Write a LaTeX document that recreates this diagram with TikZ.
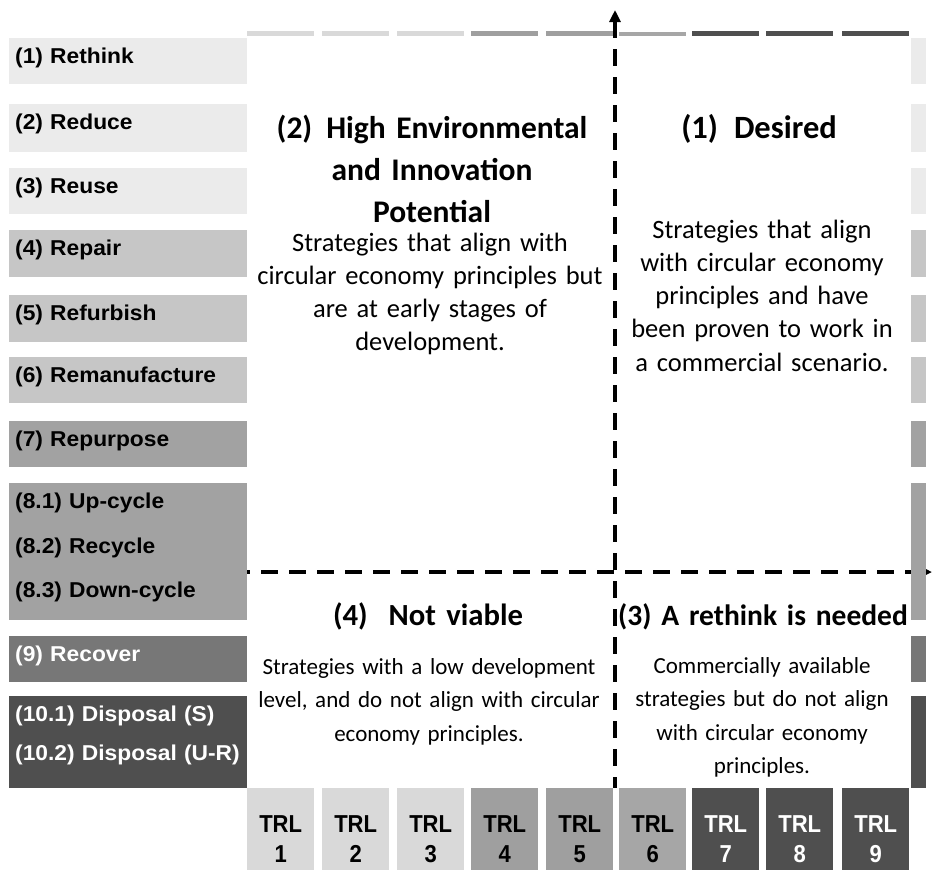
\documentclass[tikz,border=0pt]{standalone}
\usepackage{fontspec}
\usetikzlibrary{arrows.meta}
\newfontfamily\labfont[FakeStretch=1.06]{Liberation Sans}
\newfontfamily\trlfont[FakeStretch=0.9]{Liberation Sans}
\newfontfamily\calfont{Carlito}
\definecolor{g1}{HTML}{EBEBEB}
\definecolor{g2}{HTML}{C6C6C6}
\definecolor{g3}{HTML}{A2A2A2}
\definecolor{g4}{HTML}{777777}
\definecolor{g5}{HTML}{4F4F4F}
\definecolor{t1}{HTML}{D9D9D9}
\definecolor{t2}{HTML}{9F9F9F}
\definecolor{t3}{HTML}{A6A6A6}
\begin{document}
\begin{tikzpicture}[x=1pt,y=-1pt,
  lbl/.style={anchor=north west, inner xsep=6pt, inner ysep=0pt, text width=226pt,
    align=left, font=\labfont\bfseries\fontsize{21.5}{44.5}\selectfont, text height=25.5pt},
  rbar/.style={anchor=north west, inner sep=0pt, minimum width=15pt},
  tbar/.style={anchor=north west, inner sep=0pt, minimum width=67pt, minimum height=5pt},
  trl/.style={anchor=north west, inner sep=0pt, text width=67pt, align=center,
    text height=44pt, text depth=38pt, font=\trlfont\bfseries\fontsize{24.5}{30}\selectfont},
  qtitle/.style={anchor=base, text width=380pt, align=center, inner sep=0pt,
    font=\calfont\bfseries\fontsize{31.5}{42}\selectfont},
  qbody/.style={anchor=base, text width=380pt, align=center, inner sep=0pt,
    font=\calfont\fontsize{26.5}{33.3}\selectfont},
  qsmall/.style={anchor=base, text width=380pt, align=center, inner sep=0pt,
    font=\calfont\fontsize{23}{33.5}\selectfont},
  axis/.style={line width=4pt, dash pattern=on 17pt off 11pt}
]
\useasboundingbox (0,0) rectangle (933,870);
\fill[white] (0,0) rectangle (933,870);

% axes
\coordinate (vtop) at (615,10);
\coordinate (vbot) at (615,788);
\coordinate (hleft) at (247,572);
\coordinate (hright) at (932,572);
\draw[axis, {Triangle[length=12pt,width=11pt]}-] (vtop) -- (vbot);
\draw[axis, {Triangle[length=11pt,width=10pt]}-] (hright) -- (hleft);

% left labels
\node[lbl, fill=g1, text depth=20.5pt] (r1) at (9,38) {(1) Rethink};
\node[lbl, fill=g1, text depth=22.5pt] (r2) at (9,104) {(2) Reduce};
\node[lbl, fill=g1, text depth=20.5pt] (r3) at (9,168) {(3) Reuse};
\node[lbl, fill=g2, text depth=21.5pt] (r4) at (9,230) {(4) Repair};
\node[lbl, fill=g2, text depth=21.5pt] (r5) at (9,295) {(5) Refurbish};
\node[lbl, fill=g2, text depth=20.5pt] (r6) at (9,357) {(6) Remanufacture};
\node[lbl, fill=g3, text depth=20.5pt] (r7) at (9,421) {(7) Repurpose};
\node[lbl, fill=g3, text depth=111.5pt] (r8) at (9,483) {(8.1) Up-cycle\\(8.2) Recycle\\(8.3) Down-cycle};
\node[lbl, fill=g4, text depth=20.5pt, text=white] (r9) at (9,636) {(9) Recover};
\node[lbl, fill=g5, text depth=66.5pt, text=white, font=\labfont\bfseries\fontsize{21.5}{39}\selectfont] (r10) at (9,696) {(10.1) Disposal (S)\\(10.2) Disposal (U-R)};

% right bars
\node[rbar, fill=g1, minimum height=46pt] (b1) at (911,38) {};
\node[rbar, fill=g1, minimum height=48pt] (b2) at (911,104) {};
\node[rbar, fill=g1, minimum height=46pt] (b3) at (911,168) {};
\node[rbar, fill=g2, minimum height=47pt] (b4) at (911,230) {};
\node[rbar, fill=g2, minimum height=47pt] (b5) at (911,295) {};
\node[rbar, fill=g2, minimum height=46pt] (b6) at (911,357) {};
\node[rbar, fill=g3, minimum height=46pt] (b7) at (911,421) {};
\node[rbar, fill=g3, minimum height=137pt] (b8) at (911,483) {};
\node[rbar, fill=g4, minimum height=46pt] (b9) at (911,636) {};
\node[rbar, fill=g5, minimum height=92pt] (b10) at (911,696) {};

% top bars
\node[tbar, fill=t1] (c1) at (247,31) {};
\node[tbar, fill=t1] (c2) at (322,31) {};
\node[tbar, fill=t1] (c3) at (397,31) {};
\node[tbar, fill=t2] (c4) at (471,31) {};
\node[tbar, fill=t2] (c5) at (546,31) {};
\node[tbar, fill=t3, minimum height=4pt] (c6) at (619,32) {};
\node[tbar, fill=g5] (c7) at (692,31) {};
\node[tbar, fill=g5] (c8) at (766,31) {};
\node[tbar, fill=g5] (c9) at (842,31) {};

% TRL boxes
\node[trl, fill=t1] (trl1) at (247,788) {TRL\\1};
\node[trl, fill=t1] (trl2) at (322,788) {TRL\\2};
\node[trl, fill=t1] (trl3) at (397,788) {TRL\\3};
\node[trl, fill=t2] (trl4) at (471,788) {TRL\\4};
\node[trl, fill=t2] (trl5) at (546,788) {TRL\\5};
\node[trl, fill=t3] (trl6) at (619,788) {TRL\\6};
\node[trl, fill=g5, text=white] (trl7) at (692,788) {TRL\\7};
\node[trl, fill=g5, text=white] (trl8) at (766,788) {TRL\\8};
\node[trl, fill=g5, text=white] (trl9) at (842,788) {TRL\\9};

% quadrant texts
\node[qtitle] (q2t) at (432,138) {(2)\hspace{14pt}High Environmental\\and Innovation\\Potential};
\node[qbody] (q2b) at (430,251) {Strategies that align with\\circular economy principles but\\are at early stages of\\development.};
\node[qtitle, font=\calfont\bfseries\fontsize{32.5}{42}\selectfont] (q1t) at (759,138) {(1)\hspace{16pt}Desired};
\node[qbody] (q1b) at (762,238) {Strategies that align\\with circular economy\\principles and have\\been proven to work in\\a commercial scenario.};
\node[qtitle, font=\calfont\bfseries\fontsize{30.7}{42}\selectfont] (q4t) at (428,625) {(4)\hspace{21pt}Not viable};
\node[qsmall] (q4b) at (429,674) {Strategies with a low development\\level, and do not align with circular\\economy principles.};
\node[qtitle, font=\calfont\bfseries\fontsize{29.5}{42}\selectfont] (q3t) at (763,625) {(3) A rethink is needed};
\node[qsmall] (q3b) at (762,673) {Commercially available\\strategies but do not align\\with circular economy\\principles.};
\end{tikzpicture}
\end{document}
